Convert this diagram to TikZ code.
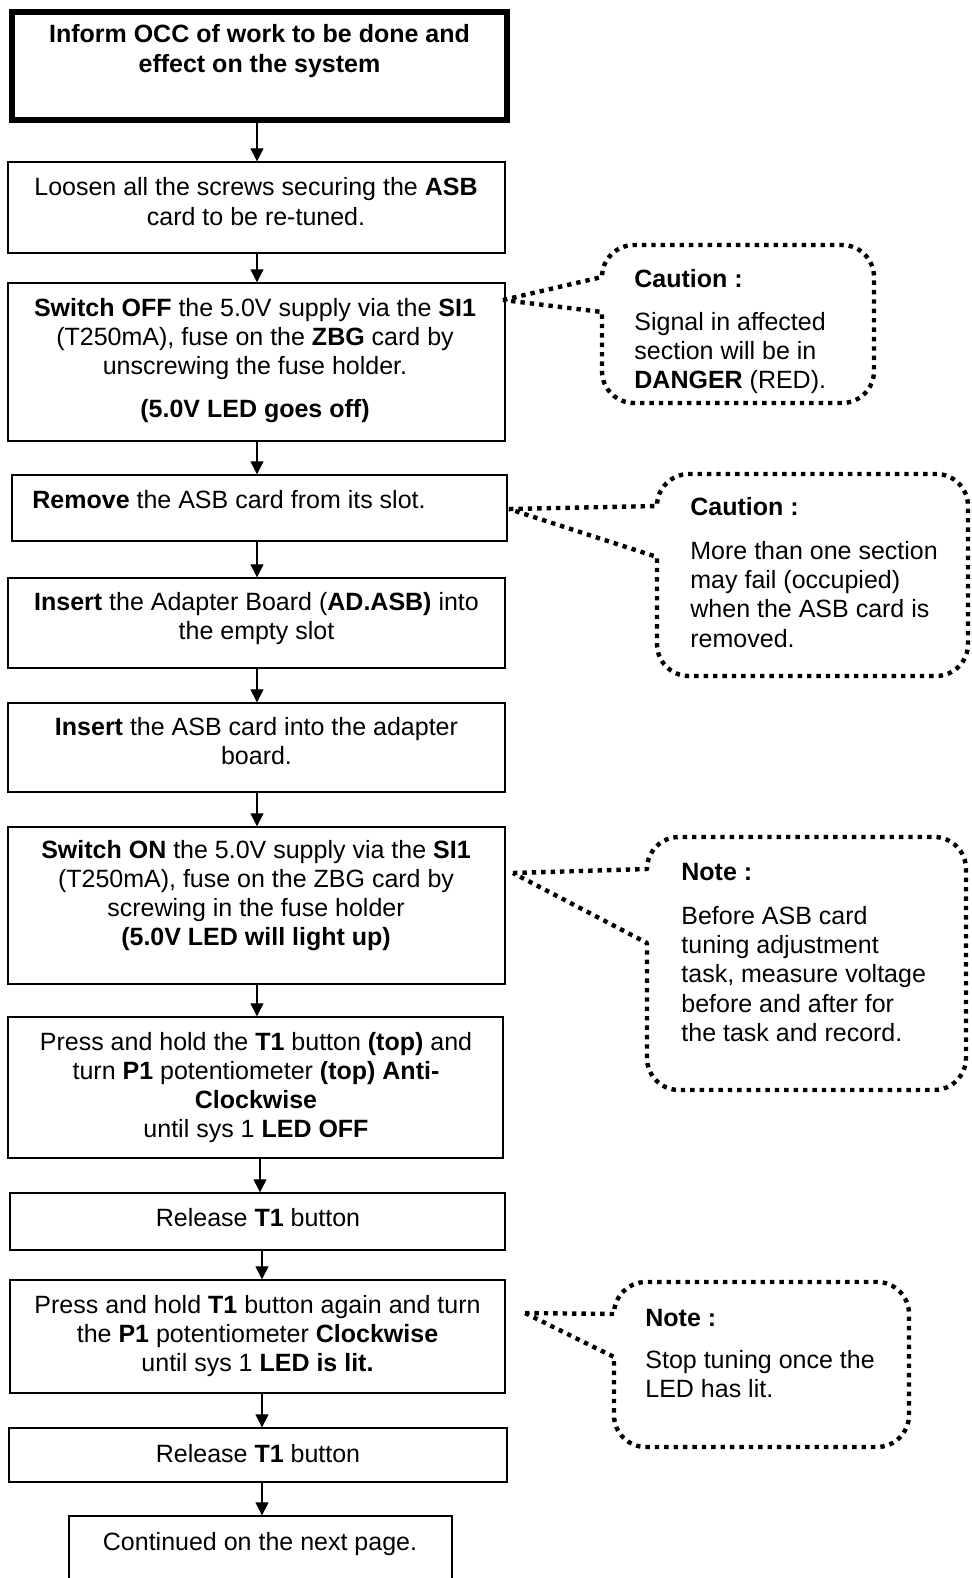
\documentclass[tikz,border=0pt]{standalone}
\usepackage{fontspec}
\setmainfont{Liberation Sans}
\usetikzlibrary{arrows.meta,fit}

% speech bubble: left, top, right, bottom, tip x, tip y, lower join y
\newcommand\bubblepath[7]{%
  \draw[bubble] (#5,#6) -- (#1,{#2+32})
    arc[start angle=180,end angle=90,radius=16pt] -- ({#3-32},#2)
    arc[start angle=90,end angle=0,radius=16pt] -- (#3,{#4-32})
    arc[start angle=0,end angle=-90,radius=16pt] -- ({#1+32},#4)
    arc[start angle=270,end angle=180,radius=16pt] -- (#1,#7) -- cycle;}

\begin{document}
\begin{tikzpicture}[x=0.5pt,y=-0.5pt,
  stepbox/.style={draw=black, line width=0.7pt, rectangle, inner sep=0pt},
  startbox/.style={stepbox, line width=2.7pt},
  txt/.style={inner sep=0pt, anchor=base, font=\fontsize{12.5}{14.65}\selectfont},
  ltxt/.style={txt, anchor=base west},
  arr/.style={line width=0.65pt, -{Triangle[length=6.5pt,width=6.5pt]}},
  bubble/.style={line width=2.2pt, dash pattern=on 2.2pt off 2.5pt, line join=round}]

\useasboundingbox (0,0) rectangle (971,1578);
\fill[white] (0,0) rectangle (971,1578);
\clip (0,0) rectangle (971,1578);

% flow boxes
\node[startbox, fit={(12,12) (507,120)}] (b1) {};
\node[stepbox, fit={(8,162) (505,253)}] (b2) {};
\node[stepbox, fit={(8,283) (505,441)}] (b3) {};
\node[stepbox, fit={(12,475) (507,541)}] (b4) {};
\node[stepbox, fit={(8,578) (505,668)}] (b5) {};
\node[stepbox, fit={(8,703) (505,792)}] (b6) {};
\node[stepbox, fit={(8,827) (505,984)}] (b7) {};
\node[stepbox, fit={(8,1017) (503,1158)}] (b8) {};
\node[stepbox, fit={(10,1193) (505,1250)}] (b9) {};
\node[stepbox, fit={(10,1280) (505,1393)}] (b10) {};
\node[stepbox, fit={(9,1428) (507,1482)}] (b11) {};
\node[stepbox, fit={(69,1516) (452,1610)}] (b12) {};

% box texts
\node[txt, font=\fontsize{12.5}{15}\selectfont\bfseries] (t1) at (259.5,42.5)
  {\begin{tabular}[t]{@{}c@{}}Inform OCC of work to be done and\\effect on the system\end{tabular}};
\node[txt] (t2) at (256,196)
  {\begin{tabular}[t]{@{}c@{}}Loosen all the screws securing the \textbf{ASB}\\card to be re-tuned.\end{tabular}};
\node[txt] (t3) at (255,316)
  {\begin{tabular}[t]{@{}c@{}}\textbf{Switch OFF} the 5.0V supply via the \textbf{SI1}\\(T250mA), fuse on the \textbf{ZBG} card by\\unscrewing the fuse holder.\\[7pt]\textbf{(5.0V LED goes off)}\end{tabular}};
\node[ltxt] (t4) at (32,508) {\textbf{Remove} the ASB card from its slot.};
\node[txt] (t5) at (256.5,610)
  {\begin{tabular}[t]{@{}c@{}}\textbf{Insert} the Adapter Board (\textbf{AD.ASB)} into\\the empty slot\end{tabular}};
\node[txt] (t6) at (256.5,735)
  {\begin{tabular}[t]{@{}c@{}}\textbf{Insert} the ASB card into the adapter\\board.\end{tabular}};
\node[txt] (t7) at (256,858)
  {\begin{tabular}[t]{@{}c@{}}\textbf{Switch ON} the 5.0V supply via the \textbf{SI1}\\(T250mA), fuse on the ZBG card by\\screwing in the fuse holder\\\textbf{(5.0V LED will light up)}\end{tabular}};
\node[txt] (t8) at (256,1050)
  {\begin{tabular}[t]{@{}c@{}}Press and hold the \textbf{T1} button \textbf{(top)} and\\turn \textbf{P1} potentiometer \textbf{(top) Anti-}\\\textbf{Clockwise}\\until sys 1 \textbf{LED OFF}\end{tabular}};
\node[txt] (t9) at (258,1226) {Release \textbf{T1} button};
\node[txt] (t10) at (257.5,1313)
  {\begin{tabular}[t]{@{}c@{}}Press and hold \textbf{T1} button again and turn\\the \textbf{P1} potentiometer \textbf{Clockwise}\\until sys 1 \textbf{LED is lit.}\end{tabular}};
\node[txt] (t11) at (258,1462) {Release \textbf{T1} button};
\node[txt] (t12) at (260,1550) {Continued on the next page.};

% connectors
\coordinate (axA) at (257,0);
\coordinate (axB) at (260,0);
\coordinate (axC) at (262,0);
\draw[arr] (b1.south -| axA) -- (b2.north -| axA);
\draw[arr] (b2.south -| axA) -- (b3.north -| axA);
\draw[arr] (b3.south -| axA) -- (b4.north -| axA);
\draw[arr] (b4.south -| axA) -- (b5.north -| axA);
\draw[arr] (b5.south -| axA) -- (b6.north -| axA);
\draw[arr] (b6.south -| axA) -- (b7.north -| axA);
\draw[arr] (b7.south -| axA) -- (b8.north -| axA);
\draw[arr] (b8.south -| axB) -- (b9.north -| axB);
\draw[arr] (b9.south -| axC) -- (b10.north -| axC);
\draw[arr] (b10.south -| axC) -- (b11.north -| axC);
\draw[arr] (b11.south -| axC) -- (b12.north -| axC);

% callouts
\bubblepath{602}{245}{874}{403}{503}{300}{312}
\node[ltxt] (c1) at (634,287)
  {\begin{tabular}[t]{@{}l@{}}\textbf{Caution :}\\[7pt]Signal in affected\\section will be in\\\textbf{DANGER} (RED).\end{tabular}};

\bubblepath{657}{474}{968}{676}{509}{509}{557}
\node[ltxt] (c2) at (690,515)
  {\begin{tabular}[t]{@{}l@{}}\textbf{Caution :}\\[7.5pt]More than one section\\may fail (occupied)\\when the ASB card is\\removed.\end{tabular}};

\bubblepath{647}{837}{966}{1090}{513}{873}{943}
\node[ltxt] (c3) at (681,880)
  {\begin{tabular}[t]{@{}l@{}}\textbf{Note :}\\[7.5pt]Before ASB card\\tuning adjustment\\task, measure voltage\\before and after for\\the task and record.\end{tabular}};

\bubblepath{614}{1282}{909}{1447}{525}{1313}{1357}
\node[ltxt] (c4) at (645,1326)
  {\begin{tabular}[t]{@{}l@{}}\textbf{Note :}\\[6.5pt]Stop tuning once the\\LED has lit.\end{tabular}};

\end{tikzpicture}
\end{document}
